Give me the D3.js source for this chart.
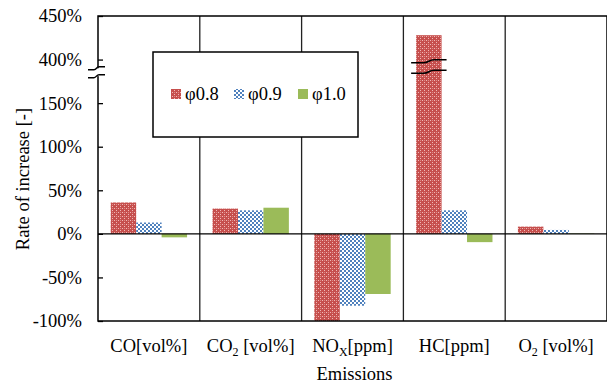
<!DOCTYPE html>
<html>
<head>
<meta charset="utf-8">
<script src="https://cdn.jsdelivr.net/npm/d3@7"></script>
<style>
  body { margin: 0; background: #fff; }
  svg text { font-family: "Liberation Serif", "DejaVu Serif", "Noto Serif", Times, serif !important; fill: #000; }
</style>
</head>
<body>
<div id="chart"></div>
<script>
// emissions (main text + subscript)
const categories = ["CO", "CO2", "NOX", "HC", "O2"];
const labelMain = ["CO", "CO", "NO", "HC[ppm]", "O"];
const labelSub = ["", "2", "X", "", "2"];
const labelTail = ["[vol%]", " [vol%]", "[ppm]", "", " [vol%]"];

const seriesNames = ["φ0.8", "φ0.9", "φ1.0"];
const phi08 = [36, 29, -100, 428, 8.3];
const phi09 = [13, 27, -82.5, 27, 4.5];
const phi10 = [-4, 30, -69, -9.5, 0.5];

// axis is broken between 150% and 400%
const tickValues = [-100, -50, 0, 50, 100, 150, 400, 450];
const breakShift = 200;

const width = 607, height = 387;
const margin = { top: 16, right: 0, bottom: 66, left: 98 };
const innerW = width - margin.left - margin.right;
const innerH = height - margin.top - margin.bottom;

const disp = v => v >= 400 - 20 ? v - breakShift : v;

const svg = d3.select("#chart").append("svg")
    .attr("width", width)
    .attr("height", height);

const defs = svg.append("defs");

const redPat = defs.append("pattern")
    .attr("id", "pRed")
    .attr("patternUnits", "userSpaceOnUse")
    .attr("width", 4).attr("height", 4);
redPat.append("rect").attr("width", 4).attr("height", 4).attr("fill", "#c64f4d");
redPat.append("rect").attr("x", 0).attr("y", 0).attr("width", 1).attr("height", 1).attr("fill", "#f0b8b6");
redPat.append("rect").attr("x", 2).attr("y", 2).attr("width", 1).attr("height", 1).attr("fill", "#f0b8b6");
redPat.append("rect").attr("x", 2).attr("y", 0).attr("width", 1).attr("height", 1).attr("fill", "#dc8886");

const bluePat = defs.append("pattern")
    .attr("id", "pBlue")
    .attr("patternUnits", "userSpaceOnUse")
    .attr("width", 4).attr("height", 4);
bluePat.append("rect").attr("width", 4).attr("height", 4).attr("fill", "#ffffff");
bluePat.append("rect").attr("x", 0).attr("y", 0).attr("width", 2).attr("height", 2).attr("fill", "#4f81bd");
bluePat.append("rect").attr("x", 2).attr("y", 2).attr("width", 2).attr("height", 2).attr("fill", "#4f81bd");

const fills = ["url(#pRed)", "url(#pBlue)", "#9bbb59"];

const g = svg.append("g")
    .attr("transform", `translate(${margin.left},${margin.top})`);

const x0 = d3.scaleBand()
    .domain(categories)
    .range([0, innerW])
    .padding(0);

const x1 = d3.scaleBand()
    .domain([0, 1, 2])
    .range([x0.bandwidth() * 0.125, x0.bandwidth() * 0.875])
    .padding(0);

const y = d3.scaleLinear()
    .domain([-100, 250])
    .range([innerH, 0]);

// bars
const series = [phi08, phi09, phi10];
series.forEach((vals, si) => {
    g.append("g")
        .selectAll("rect")
        .data(vals.map((v, i) => ({ cat: categories[i], v })))
        .enter().append("rect")
        .attr("x", d => x0(d.cat) + x1(si))
        .attr("width", x1.bandwidth())
        .attr("y", d => y(Math.max(0, disp(d.v))))
        .attr("height", d => Math.abs(y(disp(d.v)) - y(0)))
        .attr("fill", fills[si]);
});

// category separators
g.append("g")
    .selectAll("line")
    .data(categories.slice(1))
    .enter().append("line")
    .attr("x1", d => x0(d)).attr("x2", d => x0(d))
    .attr("y1", 0).attr("y2", innerH)
    .attr("stroke", "#222")
    .attr("stroke-width", 1.3);

// zero line
g.append("line")
    .attr("x1", 0).attr("x2", innerW)
    .attr("y1", y(0)).attr("y2", y(0))
    .attr("stroke", "#000")
    .attr("stroke-width", 1.3);

// plot border
g.append("rect")
    .attr("x", 0).attr("y", 0)
    .attr("width", innerW).attr("height", innerH)
    .attr("fill", "none")
    .attr("stroke", "#000")
    .attr("stroke-width", 1.5);

// y axis
const yAxis = d3.axisLeft(y)
    .tickValues(tickValues.map(disp))
    .tickSizeInner(-5)
    .tickSizeOuter(0)
    .tickPadding(16)
    .tickFormat(d => (d > 150 ? d + breakShift : d) + "%");

const ya = g.append("g").call(yAxis).attr("font-family", null);
ya.select(".domain").remove();
ya.selectAll(".tick line").attr("stroke", "#000").attr("stroke-width", 1.3);
ya.selectAll(".tick text")
    .style("font-size", "18.5px");

// tilde used for the break marks
const tilde = (xa, xb, yc) => {
    const xm = (xa + xb) / 2;
    const d = (xb - xa) * 0.15;
    return `M${xa},${yc + 1.5} L${xm - d},${yc + 1.5} C${xm},${yc + 1.5} ${xm},${yc - 1.5} ${xm + d},${yc - 1.5} L${xb},${yc - 1.5}`;
};

// axis break
const ab1 = y(190), ab2 = y(181);
g.append("rect")
    .attr("x", -3).attr("y", ab1)
    .attr("width", 6).attr("height", ab2 - ab1)
    .attr("fill", "#fff");
[ab1, ab2].forEach(yy => {
    g.append("path")
        .attr("d", tilde(-10, 7, yy))
        .attr("fill", "none")
        .attr("stroke", "#000")
        .attr("stroke-width", 1.5);
});

// break on the tall HC bar
const hcX = x0("HC") + x1(0);
[y(198), y(186)].forEach(yy => {
    g.append("path")
        .attr("d", tilde(hcX - 5, hcX + x1.bandwidth() + 5, yy))
        .attr("fill", "none")
        .attr("stroke", "#000")
        .attr("stroke-width", 1.6);
});

// x labels
const xl = g.append("g")
    .selectAll("text")
    .data(categories)
    .enter().append("text")
    .attr("x", d => x0(d) + x0.bandwidth() / 2)
    .attr("y", innerH + 31)
    .attr("text-anchor", "middle")
    .style("font-size", "18.5px");

xl.each(function (d, i) {
    const t = d3.select(this);
    t.append("tspan").text(labelMain[i]);
    if (labelSub[i]) {
        t.append("tspan")
            .attr("dy", 4)
            .style("font-size", "12px")
            .text(labelSub[i]);
        t.append("tspan").attr("dy", -4).text(labelTail[i]);
    } else if (labelTail[i]) {
        t.append("tspan").text(labelTail[i]);
    }
});

svg.append("text")
    .attr("x", margin.left + innerW / 2 + 2)
    .attr("y", 380)
    .attr("text-anchor", "middle")
    .style("font-size", "18.5px")
    .text("Emissions");

svg.append("text")
    .attr("transform", "translate(29,179) rotate(-90)")
    .attr("text-anchor", "middle")
    .style("font-size", "18.5px")
    .text("Rate of increase [-]");

// legend
const legend = svg.append("g");
legend.append("rect")
    .attr("x", 153).attr("y", 52)
    .attr("width", 205).attr("height", 85)
    .attr("fill", "#fff")
    .attr("stroke", "#000")
    .attr("stroke-width", 1.5);

const legX = [171, 234, 298];
seriesNames.forEach((name, i) => {
    legend.append("rect")
        .attr("x", legX[i]).attr("y", 89)
        .attr("width", 10).attr("height", 10)
        .attr("fill", fills[i]);
    legend.append("text")
        .attr("x", legX[i] + 14)
        .attr("y", 100)
        .style("font-size", "18.5px")
        .text(name);
});
</script>
</body>
</html>
